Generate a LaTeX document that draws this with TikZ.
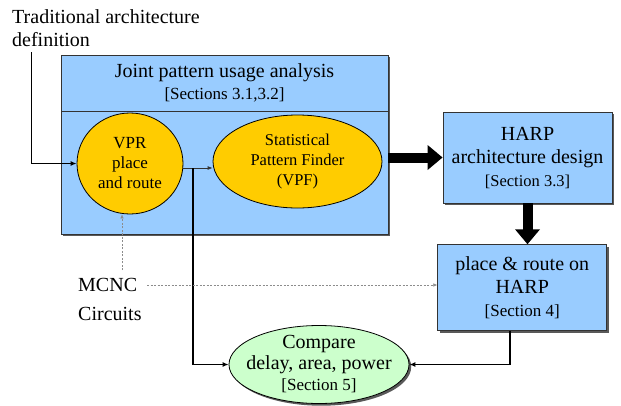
\documentclass[tikz,border=0pt]{standalone}
\usepackage{fontspec}
\setmainfont{Liberation Serif}
\usetikzlibrary{arrows.meta,shapes.geometric,calc}
\definecolor{boxblue}{HTML}{99CCFF}
\definecolor{ovalyel}{HTML}{FFCC00}
\definecolor{ovalgrn}{HTML}{CCFFCC}
\definecolor{edgegray}{HTML}{333333}
\begin{document}
\begin{tikzpicture}[x=1pt,y=-1pt,
  shad/.style={preaction={fill=black!65,transform canvas={shift={(2.2pt,-2.2pt)}}}},
  bluebox/.style={rectangle,draw=edgegray,line width=0.8pt,fill=boxblue,inner sep=0pt,align=center,font=\fontsize{20}{23}\selectfont},
  yeloval/.style={ellipse,draw=black,line width=0.8pt,fill=ovalyel,inner xsep=-20pt,inner ysep=-15pt,align=center,font=\fontsize{17}{20}\selectfont},
  grnoval/.style={ellipse,draw=black,line width=0.8pt,fill=ovalgrn,inner xsep=-30pt,inner ysep=-15pt,align=center,font=\fontsize{20}{21}\selectfont},
  freetext/.style={inner sep=0pt,align=left,anchor=north west},
  conn/.style={draw=black,line width=1.4pt,-{Latex[length=6pt,width=5pt]}},
  thinconn/.style={draw=black!80,line width=0.8pt,-{Latex[length=5pt,width=4pt]}},
  dotconn/.style={draw=black!45,line width=0.5pt,dash pattern=on 2pt off 1.5pt,-{Latex[length=4pt,width=3.5pt]}},
  bigarrow/.style={draw=black,line width=10pt,-{Triangle[length=15pt,width=24pt]}},
  sect/.style={font=\fontsize{17}{20}\selectfont}
]
\useasboundingbox (0,0) rectangle (621,405);
\fill[white] (0,0) rectangle (621,405);

% big box
\node[bluebox,shad,minimum width=327pt,minimum height=56.7pt] (top) at (224.5,83.3) {};
\node[bluebox,shad,minimum width=327pt,minimum height=122.3pt] (bot) at (224.5,172.85) {};
\node[bluebox,minimum width=327pt,minimum height=56.7pt] (title) at (top.center)
  {Joint pattern usage analysis\\[-1pt]{\fontsize{17}{20}\selectfont [Sections 3.1,3.2]}};

\node[yeloval,minimum width=106pt,minimum height=101pt] (vpr) at (130,163.5) {VPR\\place\\and route};
\node[yeloval,minimum width=169pt,minimum height=93pt,font=\fontsize{16.5}{20}\selectfont] (vpf) at (297.5,161.5) {Statistical\\Pattern Finder\\(VPF)};

\node[bluebox,shad,minimum width=169pt,minimum height=91pt] (harp) at (527.5,157.5)
  {HARP\\architecture design\\{\fontsize{16.5}{20}\selectfont [Section 3.3]}};
\node[bluebox,shad,minimum width=169pt,minimum height=86pt] (pr) at (522.2,287.7)
  {place \& route on\\HARP\\{\fontsize{17}{20}\selectfont [Section 4]}};
\node[grnoval,shad,minimum width=180pt,minimum height=78pt] (cmp) at (319,364.5)
  {Compare\\delay, area, power\\{\fontsize{17}{19}\selectfont [Section 5]}};

\node[freetext,font=\fontsize{20}{23.5}\selectfont] (trad) at (12,9.3) {Traditional architecture\\definition};
\node[freetext,font=\fontsize{20}{29}\selectfont] (mcnc) at (78,278) {MCNC\\Circuits};

\coordinate (t1) at (31.7,52);
\coordinate (j) at (193,168);
\coordinate (m1) at (122,270);
\coordinate (m2) at (147,285);
\coordinate (p1) at (510,330.7);

% connectors
\draw[conn] (t1) |- (vpr.west);
\draw[thinconn] (vpr.east |- j) -- (vpf.west |- j);
\draw[conn] (j) |- (cmp.west);
\draw[bigarrow] (harp.west -| bot.east) -- (harp.west);
\draw[bigarrow] (harp.south) -- (harp.south |- pr.north);
\draw[conn] (p1) |- (cmp.east);
\draw[dotconn] (m1) -- (m1 |- vpr.south);
\draw[dotconn] (m2) -- (m2 -| pr.west);
\end{tikzpicture}
\end{document}
